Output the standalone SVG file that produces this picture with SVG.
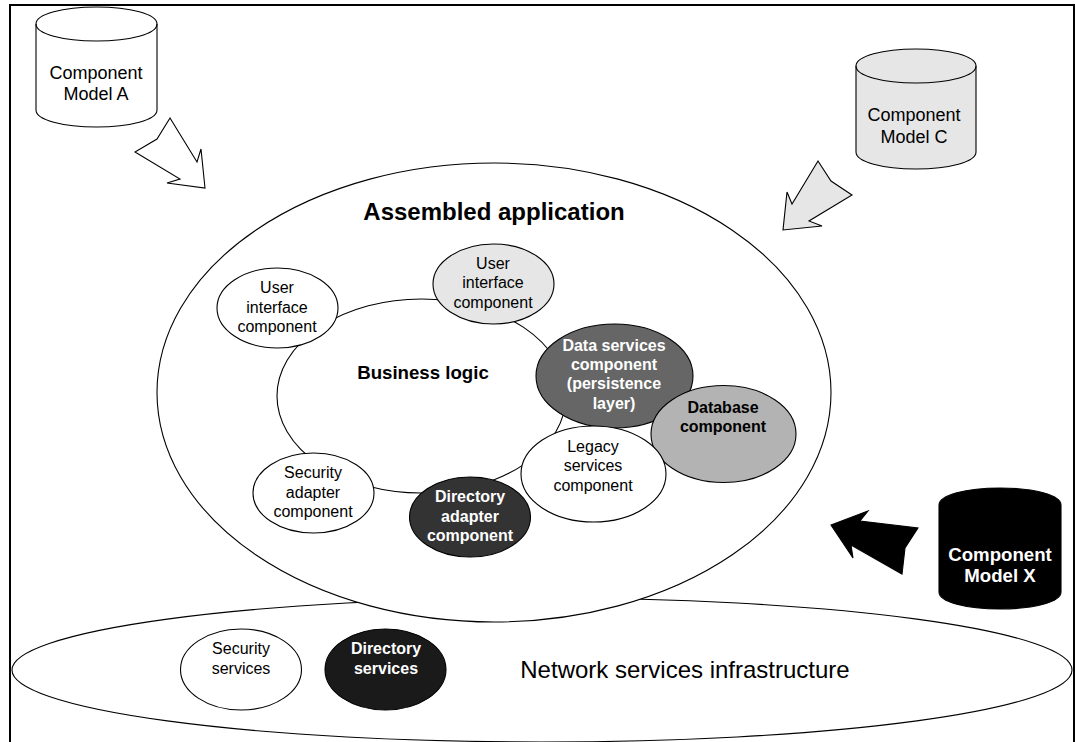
<svg xmlns="http://www.w3.org/2000/svg" width="1075" height="742" viewBox="0 0 1075 742">
<style>
text{font-family:"Liberation Sans",Arial,sans-serif;text-anchor:middle;fill:#000}
.s{font-size:16px}.b{font-size:16px;font-weight:bold}.w{fill:#fff}
.c{font-size:18px}.cb{font-size:18.670px;font-weight:bold}.o{stroke:#000;stroke-width:1.100;fill:#fff}
</style>
<rect width="1075" height="742" fill="#fff"/>
<path d="M10 742V5H1074V742" fill="none" stroke="#000" stroke-width="2"/>
<g id="connectors">
<path class="o" d="M170 118L157 139L135 152L180 179L167 183L205 188L201 149L197 162Z"/>
<path class="o" style="fill:#e6e6e6" d="M818 161L831 181L852 195L809 221L822 226L783 230L787 192L792 204Z"/>
<path class="o" style="fill:#000" d="M831 525L868 511L860 521L918 528L905 548L902 574L851 545L853 558Z"/>
</g>
<g id="cylinder-a"><path class="o" d="M36 24C36 14 63 7 96.500 7S157 14 157 24V110C157 120 130 127 96.500 127S36 120 36 110Z"/><path class="o" style="fill:none" d="M36 24C36 34 63 41 96.500 41S157 34 157 24"/><text class="c" x="96" y="79">Component</text><text class="c" x="96" y="100">Model A</text></g>
<g id="cylinder-c"><path class="o" style="fill:#e6e6e6" d="M856 66C856 56 883 49 916 49S976 56 976 66V152C976 162 949 169 916 169S856 162 856 152Z"/><path class="o" style="fill:none" d="M856 66C856 76 883 83 916 83S976 76 976 66"/><text class="c" x="914" y="121">Component</text><text class="c" x="914" y="143">Model C</text></g>
<g id="cylinder-x"><path class="o" style="fill:#000" d="M939 505C939 495 966 488 1000 488S1061 495 1061 505V592C1061 602 1034 609 1000 609S939 602 939 592Z"/><text class="cb w" x="1000" y="561">Component</text><text class="cb w" x="1000" y="582">Model X</text></g>
<g id="network"><ellipse class="o" cx="542" cy="670" rx="530" ry="72"/><text x="685" y="678" style="font-size:24px">Network services infrastructure</text></g>
<g id="assembled"><ellipse class="o" cx="494" cy="392.500" rx="337" ry="229.500"/><text x="494" y="220" style="font-size:24px;font-weight:bold">Assembled application</text></g>
<g id="business-logic"><ellipse class="o" cx="421.500" cy="396" rx="144.500" ry="97"/><text x="423" y="379" style="font-size:18.670px;font-weight:bold">Business logic</text></g>
<g id="ui-1"><ellipse class="o" cx="277.500" cy="308" rx="60.500" ry="40"/><text class="s" x="277" y="293">User</text><text class="s" x="277" y="313">interface</text><text class="s" x="277" y="332">component</text></g>
<g id="ui-2"><ellipse class="o" style="fill:#e6e6e6" cx="493.500" cy="284" rx="60.500" ry="40"/><text class="s" x="493" y="269">User</text><text class="s" x="493" y="288">interface</text><text class="s" x="493" y="308">component</text></g>
<g id="security-adapter"><ellipse class="o" cx="313.500" cy="493" rx="60.500" ry="40"/><text class="s" x="313" y="478">Security</text><text class="s" x="313" y="498">adapter</text><text class="s" x="313" y="517">component</text></g>
<g id="directory-adapter"><ellipse class="o" style="fill:#333" cx="470" cy="517" rx="60.500" ry="40"/><text class="b w" x="470" y="502">Directory</text><text class="b w" x="470" y="522">adapter</text><text class="b w" x="470" y="541">component</text></g>
<g id="data-services"><ellipse class="o" style="fill:#666" cx="614.500" cy="376" rx="78.500" ry="52"/><text class="b w" x="614" y="351">Data services</text><text class="b w" x="614" y="370">component</text><text class="b w" x="614" y="389">(persistence</text><text class="b w" x="614" y="409">layer)</text></g>
<g id="database"><ellipse class="o" style="fill:#b3b3b3" cx="723.500" cy="434" rx="72.500" ry="48.500"/><text class="b" x="723" y="413">Database</text><text class="b" x="723" y="432">component</text></g>
<g id="legacy"><ellipse class="o" cx="593.500" cy="474" rx="72.500" ry="48"/><text class="s" x="593" y="452">Legacy</text><text class="s" x="593" y="471">services</text><text class="s" x="593" y="491">component</text></g>
<g id="security-services"><ellipse class="o" cx="241" cy="669.500" rx="60.500" ry="40.500"/><text class="s" x="241" y="654">Security</text><text class="s" x="241" y="674">services</text></g>
<g id="directory-services"><ellipse class="o" style="fill:#1a1a1a" cx="385.500" cy="669.500" rx="60.500" ry="40.500"/><text class="b w" x="386" y="654">Directory</text><text class="b w" x="386" y="674">services</text></g>
</svg>
